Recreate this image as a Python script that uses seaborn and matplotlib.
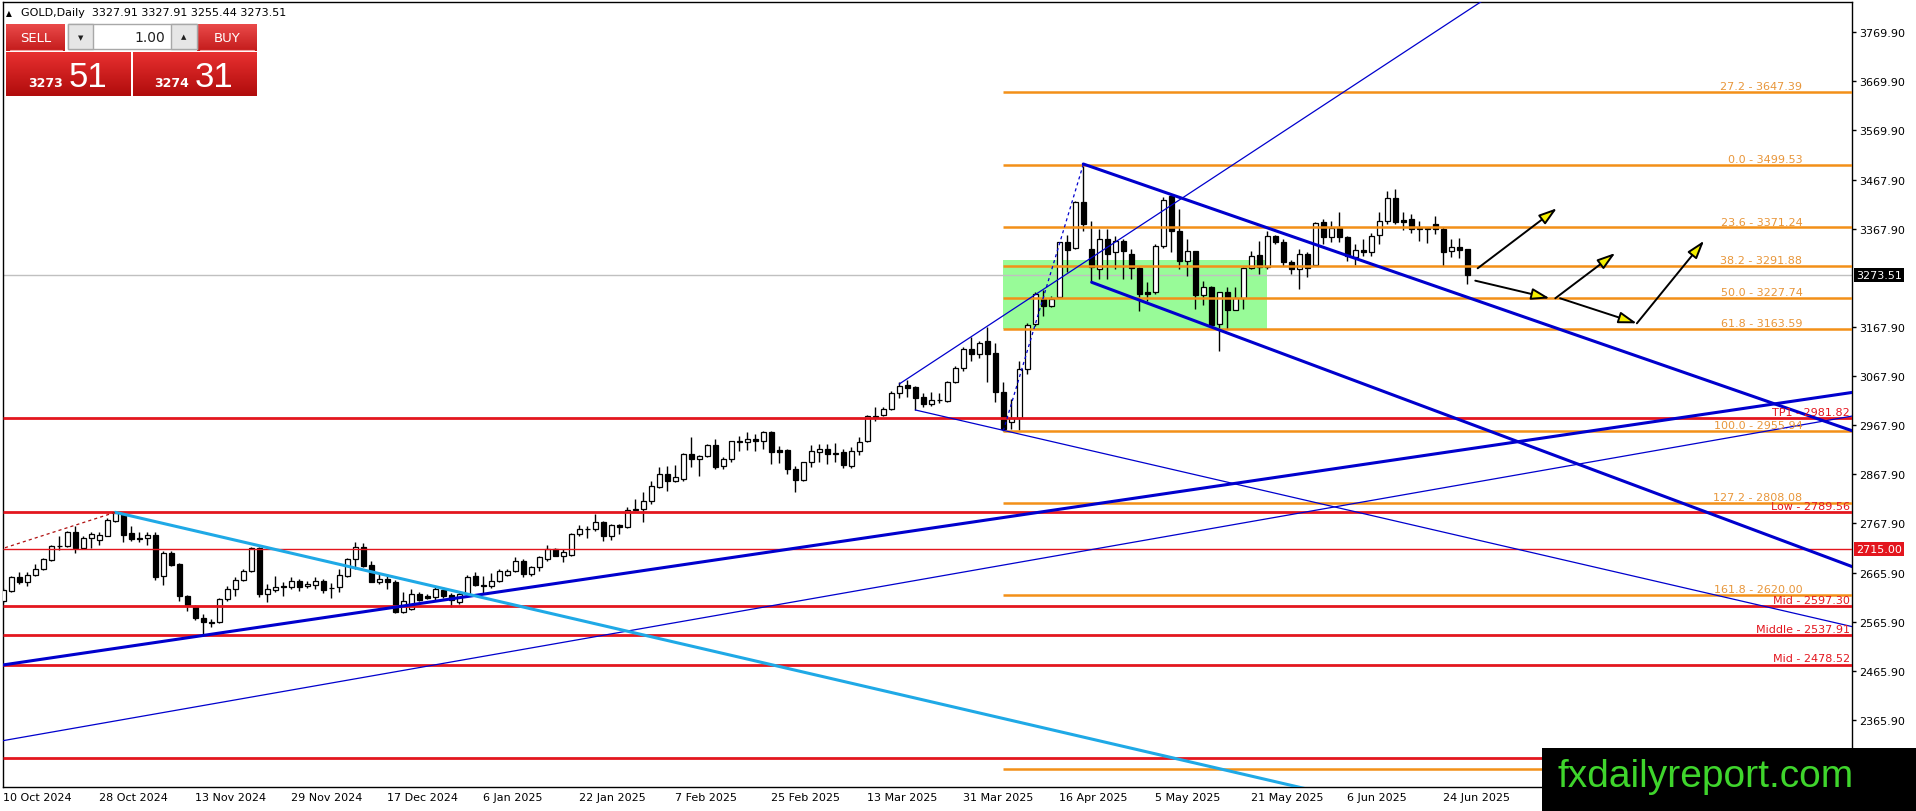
import numpy as np
import pandas as pd
import matplotlib
matplotlib.use("Agg")
import matplotlib.pyplot as plt
import seaborn as sns
from matplotlib.patches import Rectangle
from matplotlib.colors import LinearSegmentedColormap
import matplotlib.transforms as mtransforms

sns.set_style("white")
plt.rcParams['font.family'] = ['DejaVu Sans']

# ---------------- data (daily GOLD candles, 10 Oct 2024 .. 27 Jun 2025) ----------------
open_ = [2609.0, 2629.5, 2656.7, 2647.9, 2661.5, 2673.7, 2692.1, 2721.4, 2720.0, 2748.6,
         2716.0, 2736.4, 2733.6, 2741.8, 2772.4, 2786.1, 2747.3, 2736.4, 2736.4, 2743.2,
         2658.8, 2706.4, 2684.0, 2619.3, 2597.5, 2573.0, 2565.5, 2564.8, 2612.4, 2632.9,
         2652.0, 2670.3, 2716.0, 2622.7, 2631.5, 2638.5, 2636.3, 2649.9, 2638.3, 2641.0,
         2649.9, 2634.0, 2636.3, 2660.1, 2694.2, 2718.0, 2681.9, 2647.9, 2653.3, 2646.5,
         2585.2, 2592.1, 2622.7, 2617.9, 2615.9, 2631.5, 2620.6, 2605.7, 2622.7, 2658.8,
         2641.0, 2638.3, 2649.9, 2661.5, 2670.3, 2690.8, 2662.5, 2677.0, 2694.1, 2714.7,
         2701.0, 2702.3, 2745.2, 2755.4, 2755.4, 2770.4, 2740.4, 2763.6, 2758.8, 2794.2,
         2796.3, 2813.3, 2841.9, 2867.7, 2854.1, 2857.5, 2908.6, 2898.4, 2903.8, 2927.0,
         2883.4, 2898.4, 2932.4, 2932.4, 2939.2, 2935.8, 2952.8, 2917.5, 2917.5, 2878.0,
         2856.2, 2891.6, 2913.4, 2918.8, 2908.0, 2913.4, 2884.8, 2915.4, 2935.8, 2983.5,
         2988.3, 3000.5, 3033.2, 3049.5, 3044.8, 3024.3, 3010.7, 3018.2, 3017.5, 3056.3,
         3083.6, 3123.0, 3112.8, 3140.0, 3114.9, 3035.9, 2973.0, 2982.0, 3083.0, 3174.1,
         3225.2, 3210.2, 3228.6, 3340.9, 3328.6, 3422.6, 3327.3, 3286.4, 3347.7, 3320.5,
         3344.3, 3317.1, 3287.8, 3238.8, 3238.8, 3332.7, 3436.2, 3364.7, 3303.5, 3322.6,
         3233.3, 3249.0, 3174.0, 3238.8, 3203.4, 3226.5, 3287.8, 3315.0, 3289.8, 3354.5,
         3340.9, 3300.0, 3286.4, 3317.1, 3294.6, 3381.7, 3351.1, 3369.5, 3351.1, 3310.3,
         3325.9, 3320.5, 3355.9, 3383.8, 3430.8, 3386.5, 3388.5, 3370.2, 3368.1, 3378.3,
         3368.1, 3322.6, 3330.7, 3327.91]
high = [2634.0, 2660.0, 2666.9, 2668.3, 2684.0, 2695.5, 2722.7, 2740.5, 2752.0, 2760.9,
        2740.5, 2748.6, 2748.6, 2777.2, 2790.8, 2789.5, 2762.2, 2748.6, 2748.6, 2748.6,
        2711.2, 2711.2, 2686.0, 2620.6, 2600.2, 2581.8, 2571.6, 2613.8, 2638.3, 2656.7,
        2673.7, 2718.0, 2718.0, 2643.1, 2658.8, 2647.9, 2656.7, 2653.3, 2649.9, 2656.7,
        2653.3, 2645.1, 2673.7, 2695.5, 2728.2, 2726.8, 2690.8, 2663.5, 2663.5, 2651.9,
        2626.1, 2632.9, 2626.1, 2622.7, 2636.3, 2636.3, 2624.7, 2626.1, 2661.5, 2666.9,
        2660.1, 2665.5, 2673.7, 2673.7, 2697.6, 2694.0, 2680.0, 2700.0, 2722.7, 2716.0,
        2714.7, 2747.2, 2763.6, 2760.9, 2786.0, 2772.4, 2765.6, 2765.6, 2799.7, 2816.7,
        2830.3, 2854.1, 2881.3, 2884.8, 2886.1, 2910.6, 2942.6, 2906.6, 2929.0, 2939.2,
        2901.8, 2935.8, 2946.0, 2952.8, 2949.4, 2956.3, 2955.0, 2925.6, 2918.8, 2883.4,
        2892.9, 2927.0, 2929.0, 2929.0, 2931.0, 2918.8, 2922.2, 2942.6, 2988.3, 3003.9,
        3003.9, 3038.0, 3056.3, 3060.4, 3048.2, 3033.2, 3034.5, 3033.2, 3058.4, 3087.6,
        3126.5, 3146.9, 3140.1, 3167.0, 3135.3, 3055.0, 3021.0, 3099.0, 3176.0, 3240.0,
        3244.2, 3232.0, 3342.3, 3355.9, 3426.0, 3500.0, 3385.2, 3368.0, 3368.0, 3354.5,
        3347.7, 3327.3, 3290.0, 3259.2, 3337.5, 3432.8, 3440.0, 3409.0, 3347.7, 3324.0,
        3262.6, 3252.4, 3240.0, 3249.0, 3249.0, 3290.0, 3323.9, 3344.3, 3364.7, 3356.0,
        3347.7, 3305.0, 3327.3, 3320.5, 3381.7, 3388.5, 3385.2, 3403.5, 3354.5, 3337.5,
        3347.7, 3360.0, 3402.1, 3446.4, 3449.8, 3402.1, 3398.8, 3385.2, 3371.5, 3394.0,
        3371.5, 3347.7, 3349.0, 3327.91]
low = [2605.0, 2627.0, 2643.1, 2638.3, 2658.8, 2672.4, 2690.8, 2713.2, 2718.0, 2706.4,
       2714.0, 2716.0, 2722.7, 2740.5, 2770.4, 2729.6, 2731.6, 2729.6, 2722.7, 2652.0,
       2641.0, 2680.5, 2609.1, 2588.6, 2570.3, 2538.0, 2554.6, 2563.4, 2609.1, 2617.9,
       2649.9, 2668.3, 2615.9, 2605.7, 2626.1, 2619.3, 2632.9, 2629.5, 2634.3, 2632.9,
       2624.7, 2613.8, 2627.4, 2656.7, 2673.7, 2677.1, 2646.5, 2643.1, 2632.9, 2583.9,
       2583.9, 2590.7, 2609.1, 2612.4, 2609.1, 2613.8, 2595.4, 2602.2, 2620.6, 2638.3,
       2622.7, 2634.3, 2646.5, 2658.8, 2668.3, 2657.0, 2660.0, 2670.0, 2690.8, 2699.6,
       2688.7, 2701.0, 2740.4, 2736.3, 2752.0, 2730.2, 2733.6, 2745.2, 2757.5, 2792.9,
       2770.4, 2806.5, 2838.5, 2833.7, 2852.1, 2854.1, 2881.4, 2863.0, 2901.8, 2878.0,
       2878.0, 2891.6, 2915.4, 2917.5, 2915.4, 2918.8, 2888.2, 2890.2, 2867.8, 2831.7,
       2854.1, 2881.4, 2892.9, 2888.2, 2891.6, 2879.3, 2879.3, 2906.6, 2932.4, 2976.7,
       2985.5, 2999.2, 3022.3, 3024.3, 2999.2, 3003.9, 3006.0, 3012.8, 3015.5, 3053.6,
       3078.8, 3099.2, 3104.0, 3055.0, 3014.1, 2956.0, 2960.0, 2957.0, 3071.0, 3169.3,
       3191.1, 3208.2, 3228.6, 3281.0, 3327.3, 3364.7, 3259.2, 3266.0, 3266.0, 3286.4,
       3266.0, 3266.0, 3201.3, 3221.8, 3235.0, 3330.0, 3320.5, 3286.4, 3272.8, 3204.7,
       3213.0, 3170.7, 3119.6, 3163.9, 3203.4, 3204.7, 3286.4, 3276.2, 3286.4, 3337.5,
       3293.2, 3276.2, 3245.6, 3269.4, 3293.2, 3337.5, 3340.9, 3340.9, 3303.5, 3294.6,
       3313.7, 3313.7, 3337.5, 3378.3, 3378.3, 3366.8, 3360.0, 3344.3, 3339.5, 3357.9,
       3293.2, 3310.3, 3308.2, 3255.44]
close = [2631.5, 2656.7, 2647.9, 2661.5, 2673.7, 2694.2, 2721.4, 2720.0, 2748.6, 2716.0,
         2736.4, 2745.2, 2743.1, 2774.5, 2788.1, 2743.2, 2735.0, 2735.8, 2743.2, 2656.7,
         2706.4, 2681.9, 2619.3, 2600.2, 2573.0, 2564.8, 2563.4, 2612.4, 2632.9, 2652.0,
         2670.3, 2716.0, 2622.7, 2632.9, 2636.3, 2636.0, 2649.9, 2636.3, 2643.1, 2649.9,
         2631.5, 2634.3, 2661.5, 2694.2, 2718.0, 2680.5, 2647.9, 2653.3, 2646.5, 2585.2,
         2609.1, 2622.7, 2611.1, 2613.8, 2632.9, 2619.3, 2611.1, 2622.7, 2656.7, 2641.0,
         2638.3, 2649.9, 2670.3, 2670.3, 2690.8, 2662.5, 2677.0, 2697.6, 2714.7, 2701.0,
         2707.8, 2745.2, 2755.4, 2754.8, 2770.4, 2740.4, 2763.6, 2758.8, 2794.2, 2796.3,
         2813.3, 2843.9, 2867.7, 2854.1, 2860.9, 2908.6, 2898.4, 2905.2, 2927.7, 2881.4,
         2898.4, 2934.5, 2935.8, 2939.2, 2935.8, 2952.8, 2913.4, 2913.4, 2878.0, 2856.2,
         2891.6, 2915.4, 2918.8, 2908.6, 2910.6, 2886.1, 2915.4, 2932.4, 2986.9, 2986.9,
         3000.5, 3033.2, 3046.8, 3042.7, 3022.3, 3010.7, 3019.6, 3019.6, 3056.3, 3083.6,
         3123.0, 3112.8, 3135.3, 3112.8, 3035.9, 2959.7, 2983.0, 3083.0, 3172.1, 3235.4,
         3210.2, 3225.2, 3340.9, 3325.9, 3422.6, 3378.3, 3289.8, 3347.7, 3317.1, 3344.3,
         3323.9, 3287.8, 3235.4, 3235.4, 3332.7, 3428.0, 3364.7, 3303.5, 3322.6, 3233.3,
         3249.0, 3172.8, 3238.8, 3203.4, 3226.5, 3287.8, 3313.7, 3289.8, 3354.5, 3340.9,
         3300.0, 3286.4, 3317.1, 3287.8, 3380.4, 3351.1, 3369.5, 3351.1, 3313.7, 3325.9,
         3321.8, 3353.2, 3383.8, 3430.8, 3383.1, 3383.1, 3368.1, 3368.1, 3370.2, 3368.1,
         3320.5, 3330.7, 3326.0, 3273.51]

date_labels = ["10 Oct 2024", "28 Oct 2024", "13 Nov 2024", "29 Nov 2024", "17 Dec 2024",
               "6 Jan 2025", "22 Jan 2025", "7 Feb 2025", "25 Feb 2025", "13 Mar 2025",
               "31 Mar 2025", "16 Apr 2025", "5 May 2025", "21 May 2025", "6 Jun 2025",
               "24 Jun 2025"]
date_label_bars = [0, 12, 24, 36, 48, 60, 72, 84, 96, 108, 120, 132, 144, 156, 168, 180]

price_ticks = [3769.90, 3669.90, 3569.90, 3467.90, 3367.90, 3167.90, 3067.90, 2967.90,
               2867.90, 2767.90, 2665.90, 2565.90, 2465.90, 2365.90, 2265.90]

fib_ratios = ["27.2", "0.0", "23.6", "38.2", "50.0", "61.8", "100.0", "127.2", "161.8", "227.2"]
fib_prices = [3647.39, 3499.53, 3371.24, 3291.88, 3227.74, 3163.59, 2955.94, 2808.08, 2620.00, 2264.49]
fib_label_shown = [True, True, True, True, True, True, True, True, True, False]  # last one sits under the logo
fib_start_bar = 125

level_names = ["TP1", "Low", "Mid", "Middle", "Mid", "High"]
level_prices = [2981.82, 2789.56, 2597.30, 2537.91, 2478.52, 2288.00]
marked_price = 2715.00
last_price = 3273.51

zone_bars = [125, 158]
zone_prices = [3163.59, 3305.0]

# trend line anchors: (bar0, price0, bar1, price1)
upper_channel = [135.0, 3500.9, 184.6, 3219.7]
lower_channel = [136.05, 3259.3, 161.7, 3102.6]
support_line = [25.0, 2538.0, 231.1, 3034.3]
long_support = [-0.41, 2322.0, 125.8, 2684.0]
steep_line = [112.0, 3051.6, 154.8, 3511.1]
falling_thin = [114.0, 2998.5, 231.1, 2556.0]
cyan_line = [14.0, 2789.5, 64.6, 2597.5]
zigzag_red = [0.0, 2716.0, 14.0, 2789.5]
zigzag_blue = [125.0, 2956.0, 135.0, 3500.0]

# projected path arrows: (bar0, price0, bar1, price1)
arrows = [[184.3, 3287.9, 194.2, 3410.5],
          [184.0, 3262.6, 193.3, 3226.6],
          [194.0, 3226.6, 201.5, 3319.1],
          [194.6, 3226.6, 204.2, 3175.5],
          [204.2, 3175.5, 212.6, 3344.2]]

# ---------------- figure ----------------
W, H = 1916, 812
fig = plt.figure(figsize=(W / 100, H / 100), dpi=100)
fig.patch.set_facecolor("white")
ax_left, ax_right, ax_top, ax_bot = 2.7, 1852.0, 2.7, 788.3
ax = fig.add_axes([ax_left / W, 1 - ax_bot / H, (ax_right - ax_left) / W, (ax_bot - ax_top) / H])
ax.set_facecolor("white")

XMIN, XMAX = -0.075, 231.09
YMIN, YMAX = 2227.8, 3832.4

ORANGE = "#f39018"
ORANGE_TXT = "#e8963a"
RED = "#e3161e"
BLUE = "#0000cd"
CYAN = "#1fa9e6"

n = len(close)
x = np.arange(n)
o = np.array(open_); c = np.array(close); h = np.array(high); l = np.array(low)

# zone
ax.add_patch(Rectangle((zone_bars[0], zone_prices[0]), zone_bars[1] - zone_bars[0],
                       zone_prices[1] - zone_prices[0], facecolor="#98fb98", edgecolor="none", zorder=0.5))

# current price line
ax.axhline(last_price, color="#c0c0c0", lw=1, zorder=1)

# candles
ax.vlines(x, l, h, colors="black", lw=1.0, zorder=3)
body_bottom = np.minimum(o, c)
body_h = np.maximum(np.abs(c - o), 0.9)
fills = np.where(c >= o, "white", "black")
ax.bar(x, body_h, bottom=body_bottom, width=0.6, color=fills, edgecolor="black",
       linewidth=0.9, zorder=4)

# horizontal red levels
for name, p in zip(level_names, level_prices):
    ax.hlines(p, XMIN, XMAX, color=RED, lw=2.0, zorder=5)
    ax.text(230.85, p + 2.5, f"{name} - {p:.2f}", color=RED, fontsize=8, ha="right", va="bottom", zorder=6)
ax.hlines(marked_price, XMIN, XMAX, color=RED, lw=1.0, zorder=5)

# fibonacci levels
for r, p, shown in zip(fib_ratios, fib_prices, fib_label_shown):
    ax.hlines(p, fib_start_bar, XMAX, color=ORANGE, lw=1.8, zorder=5)
    if shown:
        ax.text(224.9, p + 2.0, f"{r} - {p:.2f}", color=ORANGE_TXT, fontsize=8, ha="right",
                va="bottom", zorder=6)


def trend(anchor, left=False, right=True, **kw):
    b0, p0, b1, p1 = anchor
    slope = (p1 - p0) / (b1 - b0)
    xs = np.array([XMIN - 1 if left else b0, XMAX + 1 if right else b1])
    ys = p0 + slope * (xs - b0)
    sns.lineplot(x=xs, y=ys, ax=ax, estimator=None, sort=False, zorder=5, **kw)


trend(upper_channel, color=BLUE, linewidth=2.2)
trend(lower_channel, color=BLUE, linewidth=2.2)
trend(support_line, left=True, color=BLUE, linewidth=2.2)
trend(long_support, left=True, color=BLUE, linewidth=0.9)
trend(steep_line, color=BLUE, linewidth=0.9)
trend(falling_thin, color=BLUE, linewidth=0.9)
trend(cyan_line, color=CYAN, linewidth=2.2)
trend(zigzag_red, left=True, right=False, color="#b01010", linewidth=0.9, linestyle=(0, (2.5, 2.5)))
trend(zigzag_blue, right=False, color=BLUE, linewidth=0.9, linestyle=(0, (2.5, 2.5)))

for b0, p0, b1, p1 in arrows:
    ax.annotate("", xy=(b1, p1), xytext=(b0, p0),
                arrowprops=dict(arrowstyle="-|>,head_length=1.1,head_width=0.35",
                                fc="#f5f000", ec="black", lw=1.4, mutation_scale=10,
                                shrinkA=0, shrinkB=0), zorder=7)

ax.set_xlim(XMIN, XMAX)
ax.set_ylim(YMIN, YMAX)
ax.set_xlabel(""); ax.set_ylabel("")

# axes, ticks
for s in ax.spines.values():
    s.set_color("black"); s.set_linewidth(1.0)
ax.yaxis.tick_right()
ax.set_yticks(price_ticks)
ax.set_yticklabels([f"{p:.2f}" for p in price_ticks])
ax.tick_params(axis="y", which="both", right=True, left=False, length=2.7, width=1,
               pad=2.2, labelsize=8, colors="black", direction="out")
ax.set_xticks(date_label_bars)
ax.set_xticklabels(date_labels, ha="left")
ax.tick_params(axis="x", length=2.4, width=1, pad=1.2, labelsize=8, colors="black", direction="out")

# price boxes on the axis
trans = mtransforms.blended_transform_factory(ax.transAxes, ax.transData)
xo = 1 + 4.5 / (ax_right - ax_left)
ax.text(xo, last_price, f"{last_price:.2f}", transform=trans, color="white", fontsize=8,
        ha="left", va="center", clip_on=False, zorder=8,
        bbox=dict(boxstyle="square,pad=0.18", fc="black", ec="none"))
ax.text(xo, marked_price, f"{marked_price:.2f}", transform=trans, color="white", fontsize=8,
        ha="left", va="center", clip_on=False, zorder=8,
        bbox=dict(boxstyle="square,pad=0.18", fc=RED, ec="none"))

# ---------------- overlay (header, trade panel, logo) in pixel units ----------------
ov = fig.add_axes([0, 0, 1, 1], zorder=10)
ov.patch.set_alpha(0)
ov.axis("off")

ov.text(6, 13.5, "\u25B2", fontsize=5.5, ha="left", va="center", color="black")
ov.text(21, 13.5, "GOLD,Daily  3327.91 3327.91 3255.44 3273.51", fontsize=8,
        ha="left", va="center", color="black")

grad_small = LinearSegmentedColormap.from_list("gs", ["#ea4a4a", "#c41c1c"])
grad_big = LinearSegmentedColormap.from_list("gb", ["#e83030", "#b00c0c"])
g = np.linspace(0, 1, 64).reshape(-1, 1)


def gbox(x0, x1, y0, y1, cmap):
    ov.imshow(g, cmap=cmap, extent=[x0, x1, y1, y0], aspect="auto", zorder=1, interpolation="bilinear")


gbox(6, 65, 25, 51.5, grad_small)
gbox(197, 257, 25, 51.5, grad_small)
gbox(6, 130.7, 53, 96.7, grad_big)
gbox(132.7, 256.7, 53, 96.7, grad_big)
ov.plot([10, 62], [51.2, 51.2], color="#f3a0a0", lw=0.8, zorder=2)
ov.plot([200, 254], [51.2, 51.2], color="#f3a0a0", lw=0.8, zorder=2)
# spinner
ov.add_patch(Rectangle((68, 25), 129, 25, facecolor="white", edgecolor="#a8a8a8", lw=1, zorder=2))
ov.add_patch(Rectangle((68, 25), 25, 25, facecolor="#e6e6e6", edgecolor="#a8a8a8", lw=1, zorder=3))
ov.add_patch(Rectangle((171, 25), 26, 25, facecolor="#e6e6e6", edgecolor="#a8a8a8", lw=1, zorder=3))
ov.text(80.5, 38, "\u25BC", fontsize=5, ha="center", va="center", color="#202020", zorder=4)
ov.text(184, 37.5, "\u25B2", fontsize=5, ha="center", va="center", color="#202020", zorder=4)
ov.text(165, 38, "1.00", fontsize=10, ha="right", va="center", color="#202020", zorder=4)
ov.text(35.5, 39, "SELL", fontsize=9.5, ha="center", va="center", color="white", zorder=4)
ov.text(227, 39, "BUY", fontsize=9.5, ha="center", va="center", color="white", zorder=4)
ov.text(46, 87, "3273", fontsize=9, fontweight="bold", ha="center", va="baseline", color="white", zorder=4)
ov.text(88, 87, "51", fontsize=25, ha="center", va="baseline", color="white", zorder=4,
        family="Liberation Sans")
ov.text(172, 87, "3274", fontsize=9, fontweight="bold", ha="center", va="baseline", color="white", zorder=4)
ov.text(214, 87, "31", fontsize=25, ha="center", va="baseline", color="white", zorder=4,
        family="Liberation Sans")

# logo
ov.add_patch(Rectangle((1542, 749), W - 1542, H - 749, facecolor="black", edgecolor="none", zorder=5))
ov.text(1706, 777, "fxdailyreport.com", fontsize=28, family="Liberation Sans",
        color="#3fd52c", ha="center", va="center", zorder=6)

ov.set_xlim(0, W)
ov.set_ylim(H, 0)

fig.savefig("out.png", dpi=100)
